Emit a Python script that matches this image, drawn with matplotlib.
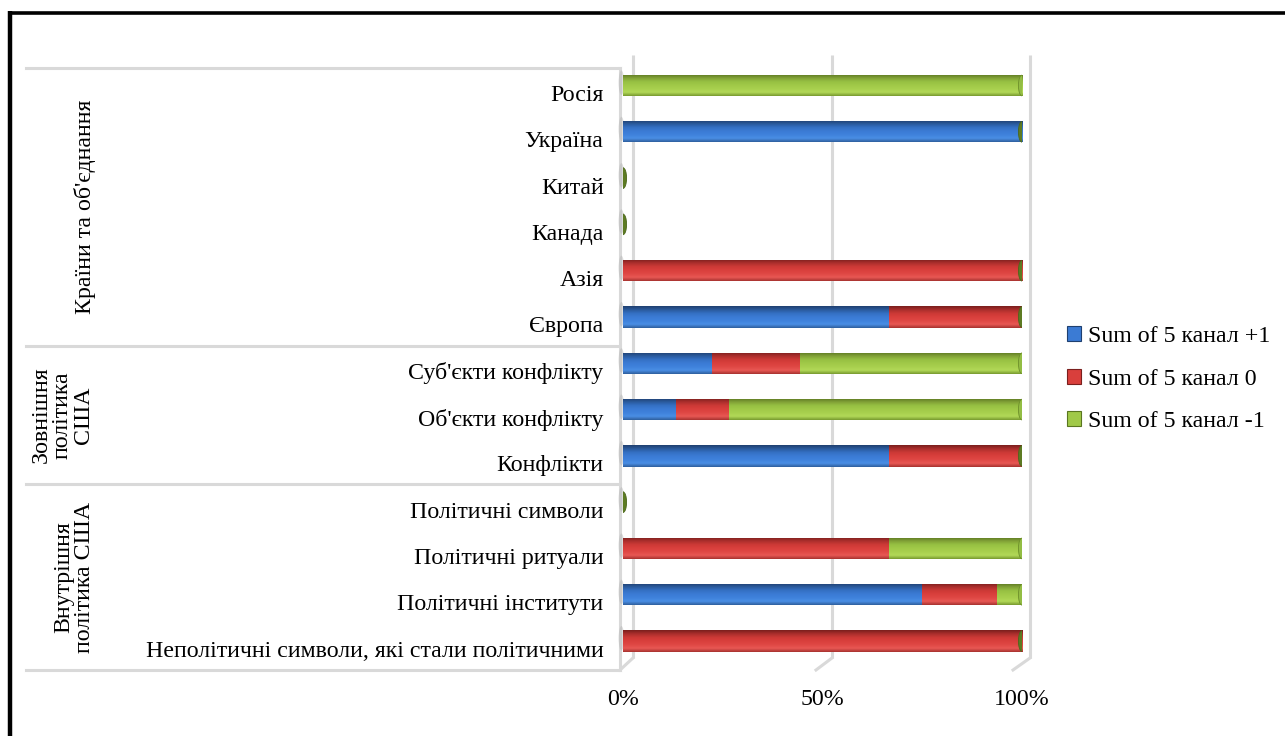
import numpy as np
import matplotlib
matplotlib.use("Agg")
import matplotlib.pyplot as plt
from matplotlib.colors import LinearSegmentedColormap
from matplotlib.patches import Ellipse, Patch
from matplotlib.transforms import ScaledTranslation

plt.rcParams['font.family'] = ['Liberation Serif', 'DejaVu Serif']

# Categories, bottom to top
categories = [
    "Неполітичні символи, які стали політичними",
    "Політичні інститути",
    "Політичні ритуали",
    "Політичні символи",
    "Конфлікти",
    "Об'єкти конфлікту",
    "Суб'єкти конфлікту",
    "Європа",
    "Азія",
    "Канада",
    "Китай",
    "Україна",
    "Росія",
]
groups = ["Внутрішня\nполітика США", "Зовнішня\nполітика\nСША", "Країни та об'єднання"]

# Counts per channel tone
pos_counts = [0, 12, 0, 0, 2, 2, 2, 2, 0, 0, 0, 1, 0]
neu_counts = [1, 3, 2, 0, 1, 2, 2, 1, 1, 0, 0, 0, 0]
neg_counts = [0, 1, 1, 0, 0, 11, 5, 0, 0, 0, 0, 0, 1]

series_names = ["Sum of 5 канал +1", "Sum of 5 канал 0", "Sum of 5 канал -1"]
x_ticks = [0, 0.5, 1.0]
x_ticklabels = ["0%", "50%", "100%"]

W, H = 1285, 736
FS = 17.2

def fx(px):
    return px / W

def fy(py):
    return 1 - py / H

fig = plt.figure(figsize=(W / 100, H / 100), dpi=100)
fig.patch.set_facecolor("white")

# 100% stacked shares
counts = np.array([pos_counts, neu_counts, neg_counts], dtype=float)
totals = counts.sum(axis=0)
shares = np.divide(counts, totals, out=np.zeros_like(counts), where=totals > 0)

# ---- background decoration (walls, grid, category table) ----
bg = fig.add_axes([0, 0, 1, 1], zorder=0)
bg.set_xlim(0, W)
bg.set_ylim(H, 0)
bg.axis("off")

grid_c = "#d9d9d9"
for xb, xf in [(633, 620), (832, 816), (1030, 1013)]:
    bg.plot([xb, xb], [55, 658], color=grid_c, lw=2.2, solid_capstyle="butt")
    bg.plot([xf, xb], [670, 658], color=grid_c, lw=2.2)
bg.plot([620, 620], [68, 670], color=grid_c, lw=2.2)
for yy in [68, 346, 484, 670]:
    bg.plot([26, 620], [yy, yy], color=grid_c, lw=2.2)

# frame
bg.plot([10, 10], [11, H], color="black", lw=3.2, solid_capstyle="butt")
bg.plot([8.5, W], [12.5, 12.5], color="black", lw=2.6, solid_capstyle="butt")

# ---- bars ----
y_top, y_bot = 62.35, 664.2
ax = fig.add_axes([fx(623), fy(y_bot), 399 / W, (y_bot - y_top) / H], zorder=2)
ax.patch.set_alpha(0)
n = len(categories)
y = np.arange(n)
bh = 0.46

palettes = [
    ["#2f5f9e", "#4a8ee4", "#3f82dc", "#3b7bd4", "#3470c4", "#2a5a9c", "#1f4070"],
    ["#a83230", "#e85854", "#df4744", "#d93f3c", "#cc3936", "#aa2e2c", "#7a1f1d"],
    ["#789a30", "#b2d858", "#a8d04e", "#a0c948", "#96bf42", "#809f36", "#5a7620"],
]
base_cols = ["#3b7dd8", "#d94040", "#a2cd48"]
grad = np.linspace(0, 1, 96).reshape(-1, 1)

left = np.zeros(n)
for k in range(3):
    bars = ax.barh(y, shares[k], left=left, height=bh, color=base_cols[k],
                   edgecolor="none", zorder=3)
    cmap = LinearSegmentedColormap.from_list(f"cyl{k}", palettes[k])
    for p in bars.patches:
        if p.get_width() <= 0:
            continue
        x0, y0 = p.get_x(), p.get_y()
        im = ax.imshow(grad, cmap=cmap, aspect="auto", zorder=3.5,
                       extent=[x0, x0 + p.get_width(), y0 + p.get_height(), y0],
                       interpolation="bilinear")
        im.set_clip_path(p)
    left = left + shares[k]

# cylinder end caps and wall shadows
for i in range(n):
    end = left[i]
    if shares[2][i] > 0:
        fc, ec = "#93bd44", "#6d8f2a"
    else:
        fc, ec = "#5d7b23", "#4b661b"
    ax.add_patch(Ellipse((end, y[i]), width=0.018, height=bh * 0.97,
                         facecolor=fc, edgecolor=ec, lw=0.6, zorder=4))
    ax.add_patch(Ellipse((-0.004, y[i] + 0.06), width=0.014, height=bh * 1.15,
                         facecolor="#b5b5b5", edgecolor="none", alpha=0.45,
                         zorder=2.5, clip_on=False))

ax.set_xlim(0, 1)
ax.set_ylim(-0.5, n - 0.5)
for s in ax.spines.values():
    s.set_visible(False)
ax.set_xticks(x_ticks)
ax.set_xticklabels(x_ticklabels, fontsize=FS)
ax.set_yticks(y)
ax.set_yticklabels(categories, fontsize=FS)
ax.tick_params(axis="both", length=0)
ax.tick_params(axis="x", pad=18)
ax.tick_params(axis="y", pad=14)
shift = ScaledTranslation(0, -0.075, fig.dpi_scale_trans)
for lab in ax.get_yticklabels():
    lab.set_transform(lab.get_transform() + shift)

# group labels
group_centers = [(484 + 670) / 2, (346 + 484) / 2, (68 + 346) / 2]
group_x = [74, 62, 85]
for g, gy, gx in zip(groups, group_centers, group_x):
    bg.text(gx, gy, g, rotation=90, ha="center", va="center",
            fontsize=FS, linespacing=1.0, multialignment="center")

# legend
handles = [Patch(facecolor=palettes[k][3], edgecolor=palettes[k][6], lw=0.8)
           for k in range(3)]
leg = fig.legend(handles, series_names, loc="upper left",
                 bbox_to_anchor=(fx(1067), fy(326)), frameon=False,
                 fontsize=FS, handlelength=0.6, handleheight=0.6,
                 handletextpad=0.3, labelspacing=0.9, borderaxespad=0,
                 borderpad=0)

fig.savefig("out.png", dpi=100, facecolor="white")
